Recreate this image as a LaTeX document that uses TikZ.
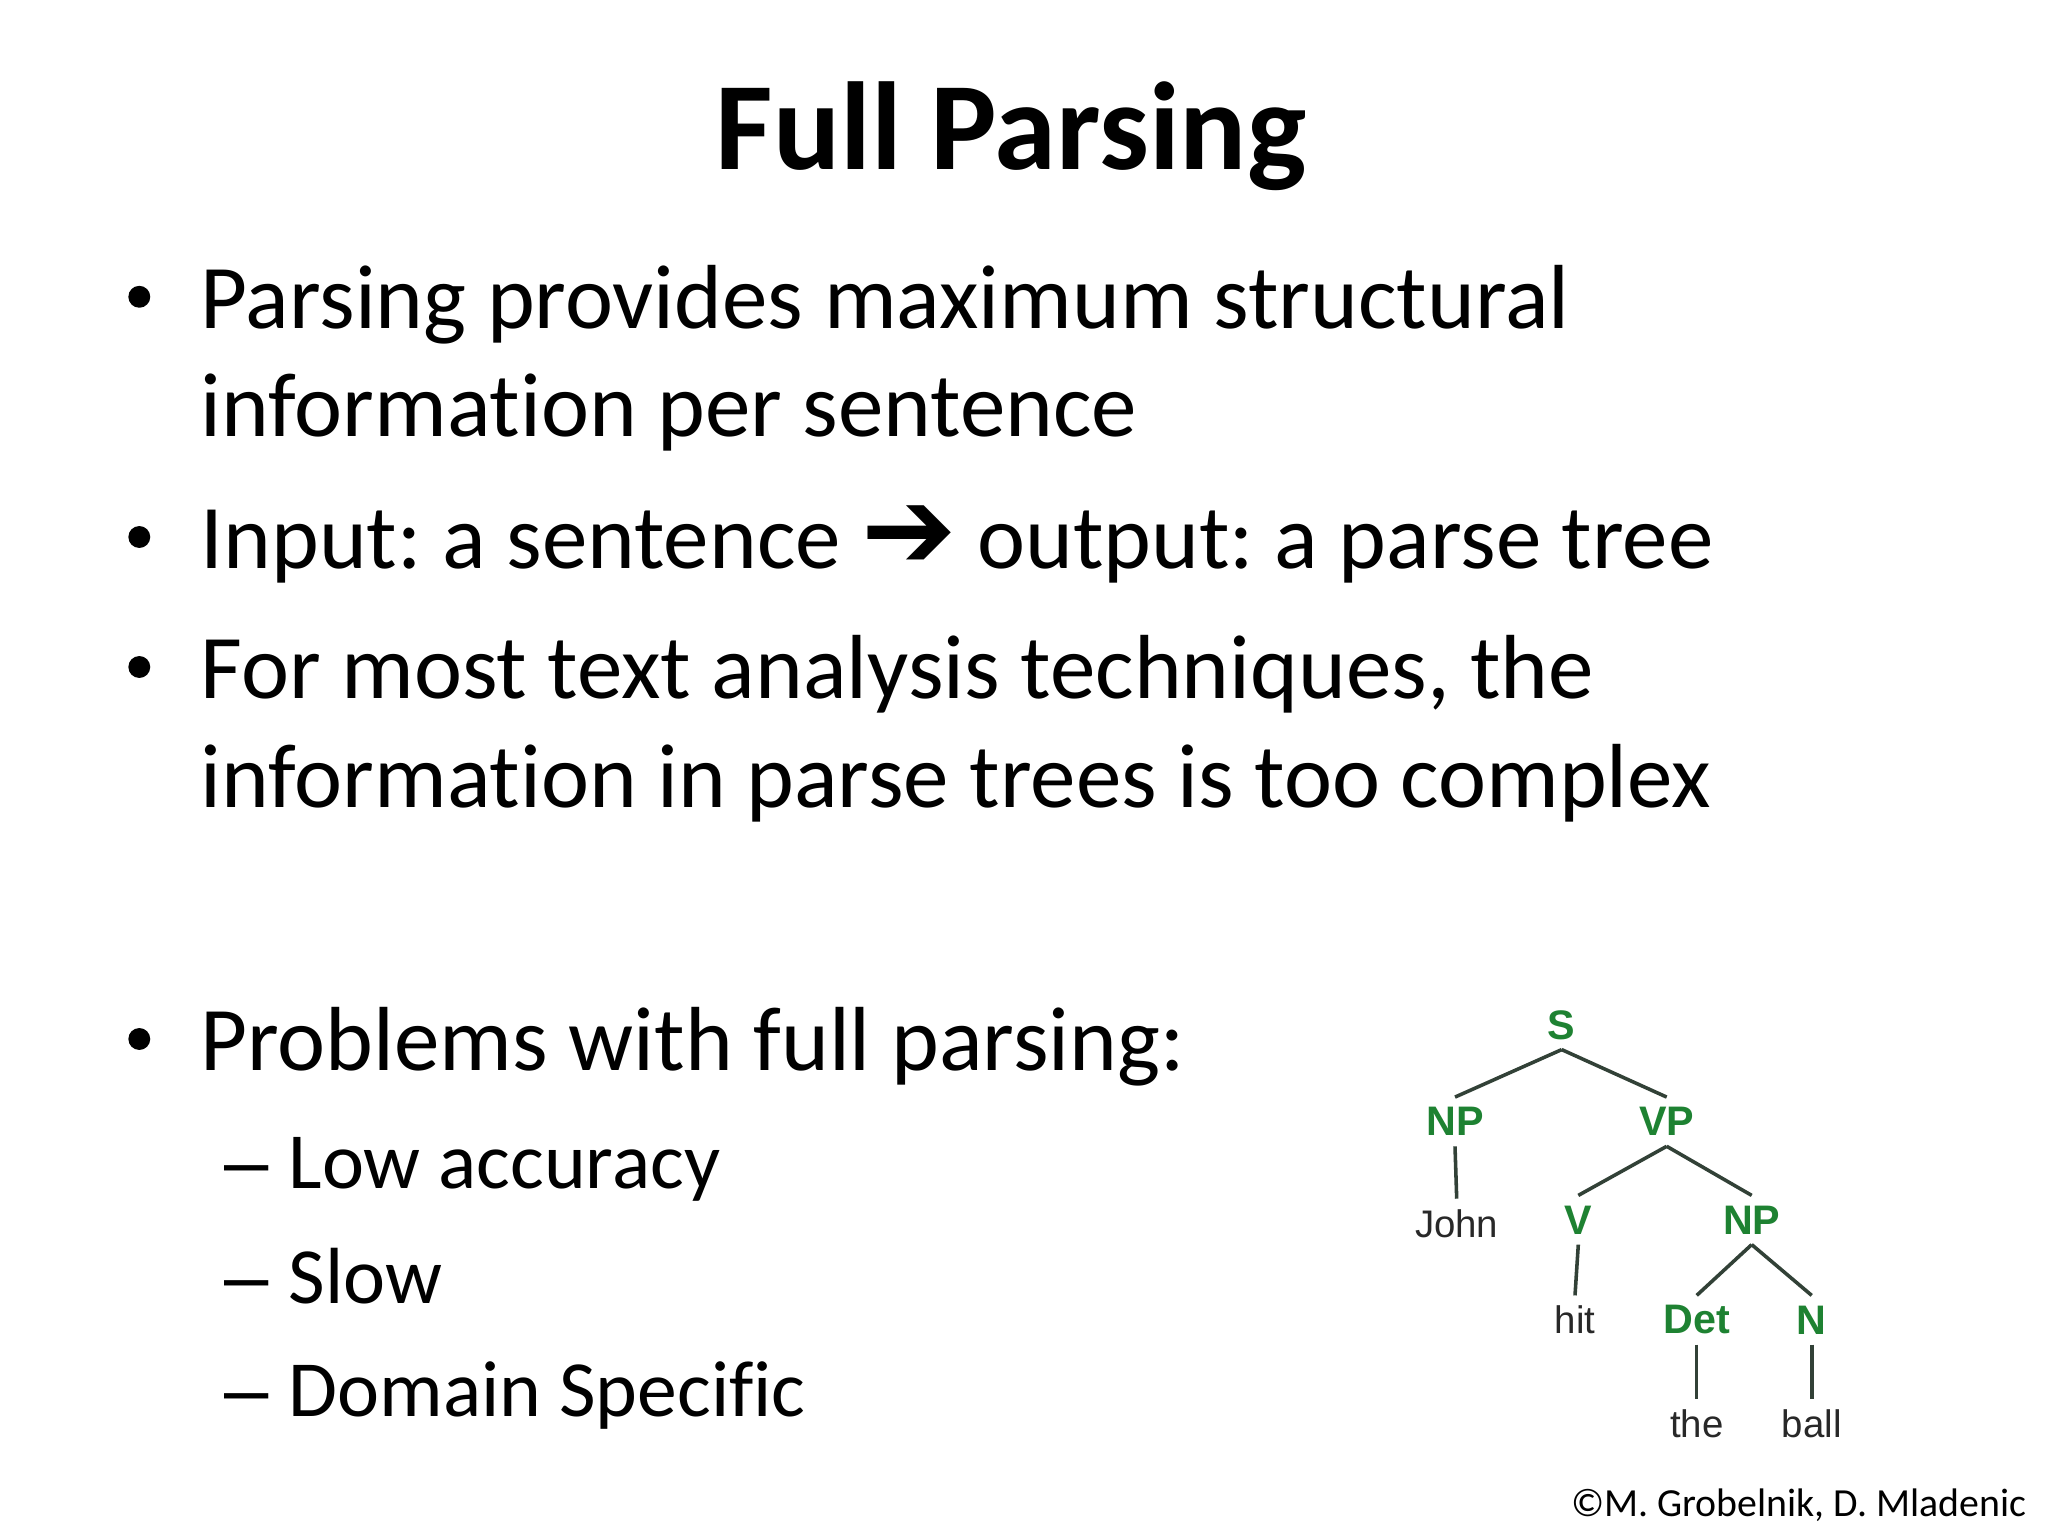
\documentclass[tikz,border=0pt]{standalone}
\usepackage{fontspec}
\setmainfont{Carlito}[Ligatures=NoCommon]
\newfontfamily\treefont{Liberation Sans}
\newfontfamily\arrowfont{DejaVu Sans Bold}
\definecolor{treegreen}{RGB}{30,130,50}
\definecolor{treeline}{RGB}{50,65,55}
\definecolor{wordgray}{RGB}{40,40,40}
\tikzset
{
	slidetitle/.style = {anchor=base, inner sep=0pt, font=\fontsize{44}{53}\selectfont\bfseries},
	bodyline/.style   = {anchor=base west, inner sep=0pt, font=\fontsize{32}{38}\selectfont},
	subline/.style    = {anchor=base west, inner sep=0pt, font=\fontsize{28}{34}\selectfont},
	subdash/.style    = {anchor=base west, inner sep=0pt, font=\treefont\fontsize{28}{34}\selectfont},
	bulletdot/.style  = {circle, fill=black, inner sep=0pt, minimum size=7.7pt},
	phrase/.style     = {inner sep=0pt, minimum height=16.9pt, text=treegreen, font=\treefont\fontsize{14.5}{17}\selectfont\bfseries},
	word/.style       = {inner sep=0pt, minimum height=16.9pt, text=wordgray, font=\treefont\fontsize{13.5}{16}\selectfont},
	branch/.style     = {draw=treeline, line width=1.25pt}
}
\frenchspacing

\begin{document}
\begin{tikzpicture}[x=0.3515625pt, y=-0.3515625pt]
\useasboundingbox (0,0) rectangle (2048,1536);
\fill[white] (0,0) rectangle (2048,1536);

\node[slidetitle] (title) at (1011,170) {Full Parsing};

% main bullets
\node[bulletdot] (b1) at (139.3,296.8) {};
\node[bodyline] (l1) at (200,328.3) {Parsing provides maximum structural};
\node[bodyline] (l2) at (200,436.6) {information per sentence};
\node[bulletdot] (b2) at (139.3,537) {};
\node[bodyline] (l3) at (200,568.3) {Input: a sentence {\arrowfont\fontsize{40}{40}\selectfont ➔} output: a parse tree};
\node[bulletdot] (b3) at (139.3,667) {};
\node[bodyline] (l4) at (200,698.3) {For most text analysis techniques, the};
\node[bodyline] (l5) at (200,807) {information in parse trees is too complex};
\node[bulletdot] (b4) at (139.3,1039) {};
\node[bodyline] (l6) at (200,1070.7) {Problems with full parsing:};

% sub bullets
\node[subdash] (d1) at (224,1188.3) {–};
\node[subline] (s1) at (288,1188.3) {Low accuracy};
\node[subdash] (d2) at (224,1303.3) {–};
\node[subline] (s2) at (288,1303.3) {Slow};
\node[subdash] (d3) at (224,1416.7) {–};
\node[subline] (s3) at (288,1416.7) {Domain Specific};

\node[anchor=base east, inner sep=0pt, font=\fontsize{14}{17}\selectfont] (credit) at (2027,1516) {©M. Grobelnik, D. Mladenic};

% parse tree
\node[phrase] (s)    at (1561.7,1025)   {S};
\node[phrase] (np)   at (1455,1121.7)   {NP};
\node[phrase] (vp)   at (1666.7,1121.7) {VP};
\node[word]   (john) at (1456.7,1223.3) {John};
\node[phrase] (v)    at (1578.3,1220)   {V};
\node[phrase] (npb)  at (1751.7,1220)   {NP};
\node[word]   (hit)  at (1575,1320)     {hit};
\node[phrase] (det)  at (1696.7,1320)   {Det};
\node[phrase] (n)    at (1811.7,1320)   {N};
\node[word]   (the)  at (1696.7,1423.3) {the};
\node[word]   (ball) at (1811.7,1423.3) {ball};

\draw[branch] (s.south) -- (np.north);
\draw[branch] (s.south) -- (vp.north);
\draw[branch] (np.south) -- (john.north);
\draw[branch] (vp.south) -- (v.north);
\draw[branch] (vp.south) -- (npb.north);
\draw[branch] (v.south) -- (hit.north);
\draw[branch] (npb.south) -- (det.north);
\draw[branch] (npb.south) -- (n.north);
\draw[branch] (det.south) -- (the.north);
\draw[branch] (n.south) -- (ball.north);
\end{tikzpicture}
\end{document}
